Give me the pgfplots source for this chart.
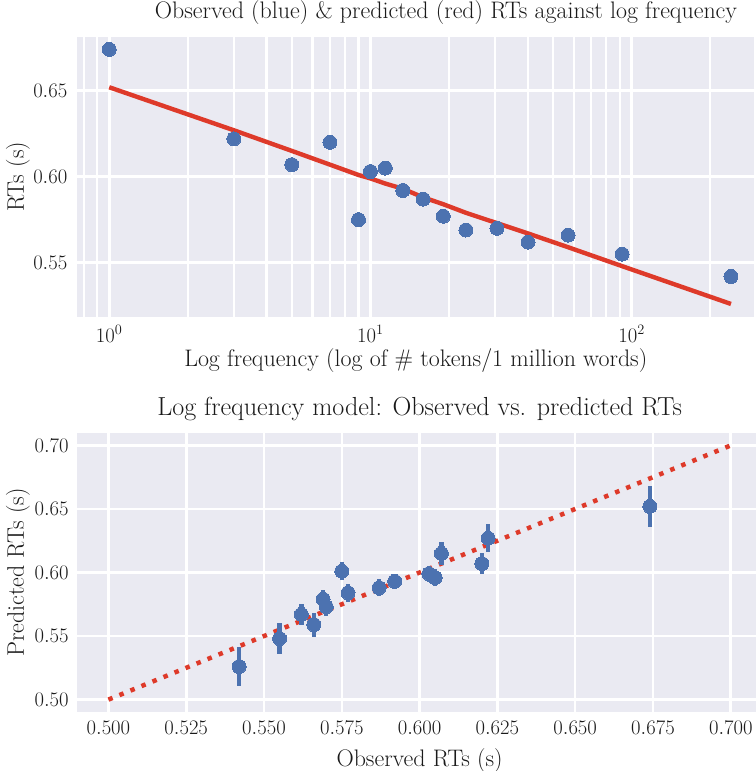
\documentclass[border=0pt]{standalone}
\usepackage{pgfplots}
\pgfplotsset{compat=1.18}
\usepackage{pgfplotstable}
\definecolor{bgcol}{HTML}{EAEAF2}
\definecolor{sblue}{HTML}{4C72B0}
\definecolor{sred}{HTML}{DE3A2A}
\definecolor{txt}{HTML}{1A1A1A}

\pgfplotstableread{
freq  obs    pred
1     0.674  0.652
3     0.622  0.627
5     0.607  0.615
7     0.620  0.607
9     0.575  0.601
10    0.603  0.599
11.4  0.605  0.596
13.3  0.592  0.593
15.9  0.587  0.588
19    0.577  0.584
23.2  0.569  0.579
30.5  0.570  0.573
40.1  0.562  0.567
57.1  0.566  0.559
91.9  0.555  0.548
240   0.542  0.526
}\freqdata

\pgfplotstableread{
obs    pred   err
0.674  0.652  0.0160
0.622  0.627  0.0110
0.607  0.615  0.0090
0.620  0.607  0.0080
0.575  0.601  0.0070
0.603  0.599  0.0065
0.605  0.596  0.0065
0.592  0.593  0.0060
0.587  0.588  0.0065
0.577  0.584  0.0070
0.569  0.579  0.0075
0.570  0.573  0.0070
0.562  0.567  0.0085
0.566  0.559  0.0095
0.555  0.548  0.0120
0.542  0.526  0.0155
}\errdata

\pgfplotsset{
  sbstyle/.style={
    scale only axis,
    anchor=south west,
    axis background/.style={fill=bgcol},
    axis line style={draw=none},
    tick style={draw=none},
    major grid style={white, line width=2.6bp},
    minor grid style={white, line width=2.2bp},
    font=\fontsize{20}{24}\selectfont,
    every tick label/.append style={text=txt, inner sep=0pt, font=\fontsize{20}{24}\selectfont},
    label style={text=txt, inner sep=0pt, font=\fontsize{24}{28}\selectfont},
    title style={text=txt, inner sep=0pt},
    clip=true,
  }
}

\begin{document}
\begin{tikzpicture}
\useasboundingbox (0,0) rectangle (756bp,771bp);

\begin{axis}[sbstyle,
  at={(77.5bp,454.3bp)},
  width=676.5bp, height=280bp,
  xmode=log, log basis x=10,
  xmin=0.7561, xmax=294, ymin=0.5186, ymax=0.6814,
  xtick={1,10,100},
  minor xtick={0.8,0.9,2,3,4,5,6,7,8,9,20,30,40,50,60,70,80,90,200},
  ytick={0.55,0.60,0.65},
  xticklabel style={anchor=base, yshift=-25.6bp},
  yticklabel style={anchor=east, xshift=-10bp, /pgf/number format/.cd, fixed, fixed zerofill, precision=2},
  xmajorgrids=true, xminorgrids=true, ymajorgrids=true,
  title style={at={(axis description cs:0.5447,1.0454)}, anchor=base, font=\fontsize{24}{28}\selectfont},
  xlabel style={at={(axis description cs:0.5,-0.1764)}, anchor=base},
  ylabel style={at={(axis description cs:-0.0791,0.5)}, anchor=base},
  title={Observed (blue) \& predicted (red) RTs against log frequency},
  xlabel={Log frequency (log of \# tokens/1 million words)},
  ylabel={RTs (s)},
]
\addplot[only marks, mark=*, mark size=7bp, mark options={fill=sblue, draw=sblue, line width=0pt}]
  table[x=freq, y=obs] {\freqdata};
\addplot[sred, line width=4.4bp, no marks] table[x=freq, y=pred] {\freqdata};
\end{axis}

\begin{axis}[sbstyle,
  at={(77.3bp,58.7bp)},
  width=684.6bp, height=279.6bp,
  xmin=0.49, xmax=0.71, ymin=0.49, ymax=0.71,
  xtick={0.500,0.525,0.550,0.575,0.600,0.625,0.650,0.675,0.700},
  ytick={0.50,0.55,0.60,0.65,0.70},
  xticklabel style={anchor=base, yshift=-21.7bp, /pgf/number format/.cd, fixed, fixed zerofill, precision=3},
  yticklabel style={anchor=east, xshift=-8.5bp, /pgf/number format/.cd, fixed, fixed zerofill, precision=2},
  scaled x ticks=false, scaled y ticks=false,
  xmajorgrids=true, ymajorgrids=true,
  title style={at={(axis description cs:0.5,1.0393)}, anchor=base, font=\fontsize{26.2}{30}\selectfont},
  xlabel style={at={(axis description cs:0.5,-0.1931)}, anchor=base},
  ylabel style={at={(axis description cs:-0.0781,0.5)}, anchor=base},
  title={Log frequency model: Observed vs. predicted RTs},
  xlabel={Observed RTs (s)},
  ylabel={Predicted RTs (s)},
]
\addplot[sred, line width=4.5bp, dash pattern=on 4.5bp off 7.4bp, no marks] coordinates {(0.5,0.5) (0.7,0.7)};
\addplot[only marks, mark=*, mark size=7bp, mark options={fill=sblue, draw=sblue, line width=0pt},
  error bars/.cd, y dir=both, y explicit,
  error bar style={sblue, line width=4.3bp}, error mark=none]
  table[x=obs, y=pred, y error=err] {\errdata};
\end{axis}
\end{tikzpicture}
\end{document}
